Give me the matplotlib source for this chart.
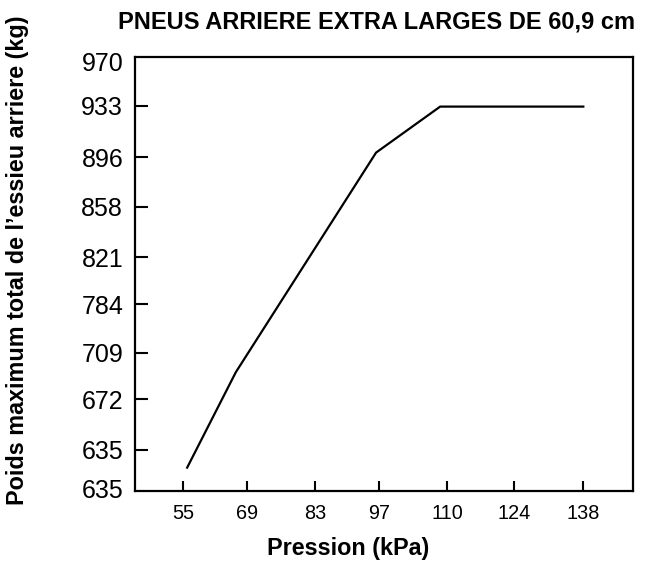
import matplotlib
matplotlib.use("Agg")
import matplotlib.pyplot as plt

plt.rcParams['font.family'] = ['Liberation Sans', 'DejaVu Sans']

# Data (x in kPa; y in the chart's linear vertical units)
pressure = [55.8, 65.9, 95.0, 108.3, 138.0]
load = [621.6, 694.0, 860.6, 895.5, 895.5]

x_tick_pos = [55, 68.2, 82.3, 95.7, 109.7, 123.6, 138]
x_tick_labels = ['55', '69', '83', '97', '110', '124', '138']

y_tick_pos = [605.9, 635.0, 673.4, 708.8, 745.5, 781.2, 819.6, 857.1, 896.2, 929.6]
y_tick_labels = ['635', '635', '672', '709', '784', '821', '858', '896', '933', '970']

title = 'PNEUS ARRIERE EXTRA LARGES DE 60,9 cm'
xlabel = 'Pression (kPa)'
ylabel = "Poids maximum total de l\u2019essieu arriere (kg)"

fig = plt.figure(figsize=(6.47, 5.61), dpi=100)
ax = fig.add_axes([135/647, 1-490.7/561, (633-135)/647, (490.7-57.3)/561])

ax.plot(pressure, load, color='black', lw=1.6, solid_joinstyle='miter')
ax.set_xlim(44.98, 148.31)
ax.set_ylim(604.1, 932.9)

ax.set_xticks(x_tick_pos)
ax.set_xticklabels(x_tick_labels, fontsize=14.3)
ax.set_yticks(y_tick_pos)
ax.set_yticklabels(y_tick_labels, fontsize=18)
ax.tick_params(axis='x', direction='in', length=7.5, width=1.5, pad=9.5)
ax.tick_params(axis='y', direction='in', length=9.5, width=1.5, pad=8.5)
yt = ax.yaxis.get_major_ticks()
for i in (0, len(yt)-1):
    yt[i].tick1line.set_visible(False)

for s in ax.spines.values():
    s.set_linewidth(1.6)

fig.text(377/647, 1-22/561, title, ha='center', va='center', fontsize=17, fontweight='bold')
fig.text(348/647, 1-549/561, xlabel, ha='center', va='center', fontsize=16.8, fontweight='bold')
fig.text(18/647, 1-260/561, ylabel, ha='center', va='center', rotation=90, fontsize=16.8, fontweight='bold')

fig.savefig('out.png', dpi=100)
